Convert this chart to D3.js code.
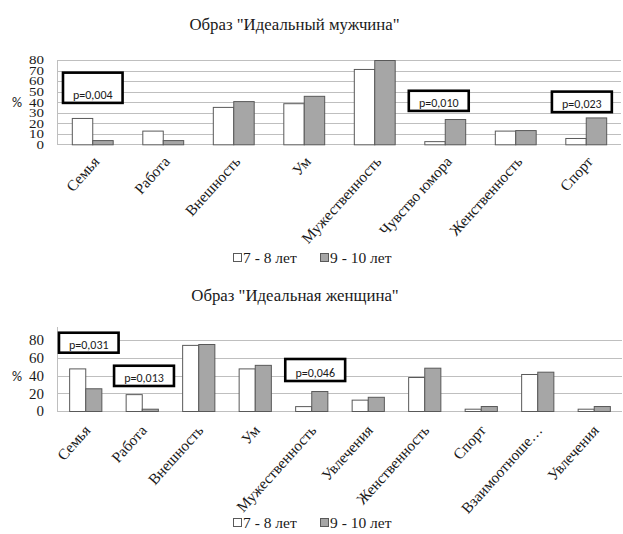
<!DOCTYPE html>
<html><head><meta charset="utf-8">
<script src="https://cdn.jsdelivr.net/npm/d3@7"></script>
<style>body{margin:0;background:#fff}svg{display:block}</style>
</head><body>
<script>
// ---- data ----
const seriesNames = ["7 - 8 лет", "9 - 10 лет"];

const titleMale = 'Образ "Идеальный мужчина"';
const catsMale = ["Семья","Работа","Внешность","Ум","Мужественность","Чувство юмора","Женственность","Спорт"];
const male78  = [25, 13, 35.5, 39, 71.5, 3, 13, 6];
const male910 = [4, 4, 41, 46, 80, 24, 13.5, 25.5];
const ticksMale = [0,10,20,30,40,50,60,70,80];
// annotations: label, category position (fractional), box top/bottom in value units
const annMale = [
  {label:"p=0,004", c0:0.085, c1:0.93, yTop:68, yBot:39.3},
  {label:"p=0,010", c0:4.99, c1:5.84, yTop:50.8, yBot:31.7},
  {label:"p=0,023", c0:7.02, c1:7.87, yTop:50, yBot:30.5}
];

const titleFemale = 'Образ "Идеальная женщина"';
const catsFemale = ["Семья","Работа","Внешность","Ум","Мужественность","Увлечения","Женственность","Спорт","Взаимоотноше…","Увлечения "];
const female78  = [48, 19, 74.5, 48, 5.5, 12.8, 38.3, 2.6, 41.7, 2.6];
const female910 = [25.6, 2.6, 75.5, 52, 22.5, 16, 48.8, 5.6, 44.3, 5.6];
const ticksFemale = [0,20,40,60,80];
const annFemale = [
  {label:"p=0,031", c0:0.035, c1:1.09, yTop:88.2, yBot:65.7},
  {label:"p=0,013", c0:1.01, c1:2.07, yTop:51, yBot:28.2},
  {label:"p=0,046", c0:4.04, c1:5.1, yTop:58.6, yBot:33.8}
];

// ---- font warm-up ----
const SERIF = '"Liberation Serif", "Times New Roman", serif';
const SANS = '"Carlito", "Liberation Sans", sans-serif';
(function() {
  const c = document.createElement("canvas").getContext("2d");
  ['"Liberation Serif"', '"Carlito"', '"Liberation Sans"'].forEach(f => {
    c.font = `15px ${f}, monospace`;
    c.measureText('Образ "Идеальный" p=0,004 0123456789 лет %');
  });
})();

// ---- drawing ----
const W = 623, H = 534;
const svg = d3.select("body").append("svg").attr("width", W).attr("height", H);
const fillWhite = "#ffffff", fillGray = "#a6a6a6", stroke = "#595959", grid = "#bfbfbf", ink = "#1a1a1a";

function chart(opt) {
  const g = svg.append("g");
  const x0 = d3.scaleBand().domain(opt.cats).range([opt.left, opt.right]).paddingInner(opt.padIn).paddingOuter(opt.padIn/2);
  const full = d3.scaleLinear().domain([0, opt.cats.length]).range([opt.left, opt.right]);
  const x1 = d3.scaleBand().domain([0,1]).range([0, x0.bandwidth()]);
  const y = d3.scaleLinear().domain([0, opt.ymax]).range([opt.bottom, opt.top80]);

  // title
  g.append("text").style("font-family", SERIF).attr("x", opt.titleX).attr("y", opt.titleY).attr("text-anchor","middle")
    .style("font-size", "16.8px").attr("fill", ink).text(opt.title);

  // gridlines
  g.selectAll(".gl").data(opt.ticks).enter().append("line")
    .attr("x1", opt.left).attr("x2", opt.right)
    .attr("y1", d => Math.round(y(d))+0.5).attr("y2", d => Math.round(y(d))+0.5)
    .attr("stroke", grid).attr("stroke-width", 1);
  // y axis line
  g.append("line").attr("x1", opt.left+0.5).attr("x2", opt.left+0.5)
    .attr("y1", opt.axisTop).attr("y2", Math.round(y(0))+0.5).attr("stroke", grid);

  // y tick labels via axis
  const ax = g.append("g").attr("transform", `translate(${opt.left},0)`)
    .call(d3.axisLeft(y).tickValues(opt.ticks).tickSize(0).tickPadding(13).tickFormat(d3.format("d")));
  ax.select(".domain").remove();
  ax.attr("font-family", null).attr("font-size", null);
  ax.selectAll(".tick text")
    .style("font-family", SERIF).style("font-size", "15px").attr("fill", ink)
    .attr("x", -13).attr("dy", "0.32em")
    .attr("transform", `scale(1,${opt.tickSquash})`);

  // % label
  g.append("text").style("font-family", SANS).attr("x", 17).attr("y", y(40)+5).attr("text-anchor","middle")
    .style("font-size", "14px").attr("fill", ink).text("%");

  // bars
  const groups = g.selectAll(".grp").data(opt.cats).enter().append("g")
    .attr("transform", d => `translate(${x0(d)},0)`);
  groups.each(function(c, i) {
    const vals = [opt.s1[i], opt.s2[i]];
    d3.select(this).selectAll("rect").data(vals).enter().append("rect")
      .attr("x", (v, j) => x1(j)+0.5)
      .attr("y", v => y(v)+0.5)
      .attr("width", x1.bandwidth())
      .attr("height", v => Math.max(0, y(0) - y(v)))
      .attr("fill", (v, j) => j === 0 ? fillWhite : fillGray)
      .attr("stroke", stroke).attr("stroke-width", 1);
  });

  // x labels
  const xa = g.append("g").attr("transform", `translate(0,${y(0)})`)
    .call(d3.axisBottom(x0).tickSize(0).tickPadding(0));
  xa.select(".domain").remove();
  xa.attr("font-family", null).attr("font-size", null);
  xa.selectAll("text")
    .style("font-family", SERIF).style("font-size", "15.3px").attr("fill", ink)
    .attr("text-anchor", "end").attr("dy", 0).attr("y", 0)
    .attr("transform", `translate(${opt.lblDx},${opt.lblDy}) rotate(-48)`);

  // annotations
  opt.ann.forEach(a => {
    const bx0 = full(a.c0), bx1 = full(a.c1), by0 = y(a.yTop), by1 = y(a.yBot);
    g.append("rect").attr("x", bx0).attr("y", by0).attr("width", bx1-bx0).attr("height", by1-by0)
      .attr("fill", "#fff").attr("stroke", "#000").attr("stroke-width", 2.6);
    g.append("text").style("font-family", SANS).attr("x", (bx0+bx1)/2).attr("y", by1-4).attr("text-anchor","middle")
      .style("font-size", "12px").attr("fill", ink).text(a.label);
  });

  // legend
  const lg = g.append("g");
  const items = [{x: opt.legX, fill: fillWhite}, {x: opt.legX+87, fill: fillGray}];
  items.forEach((it, j) => {
    lg.append("rect").attr("x", it.x+0.5).attr("y", opt.legY-9.5).attr("width", 8).attr("height", 8)
      .attr("fill", it.fill).attr("stroke", stroke);
    lg.append("text").style("font-family", SERIF).attr("x", it.x+10).attr("y", opt.legY)
      .style("font-size", "15.5px").attr("fill", ink).text(seriesNames[j]);
  });
}

chart({cats: catsMale, s1: male78, s2: male910, ticks: ticksMale, ann: annMale, title: titleMale,
  left: 57, right: 621, bottom: 144.3, top80: 60, ymax: 80, axisTop: 60, tickSquash: 0.8,
  padIn: 0.42, titleX: 294.5, titleY: 30, lblDx: 8, lblDy: 18, legX: 233, legY: 263});

chart({cats: catsFemale, s1: female78, s2: female910, ticks: ticksFemale, ann: annFemale, title: titleFemale,
  left: 57, right: 622, bottom: 411, top80: 340, ymax: 80, axisTop: 327, tickSquash: 1,
  padIn: 0.43, titleX: 295, titleY: 301, lblDx: 6, lblDy: 20, legX: 233, legY: 528});
</script>
</body></html>
